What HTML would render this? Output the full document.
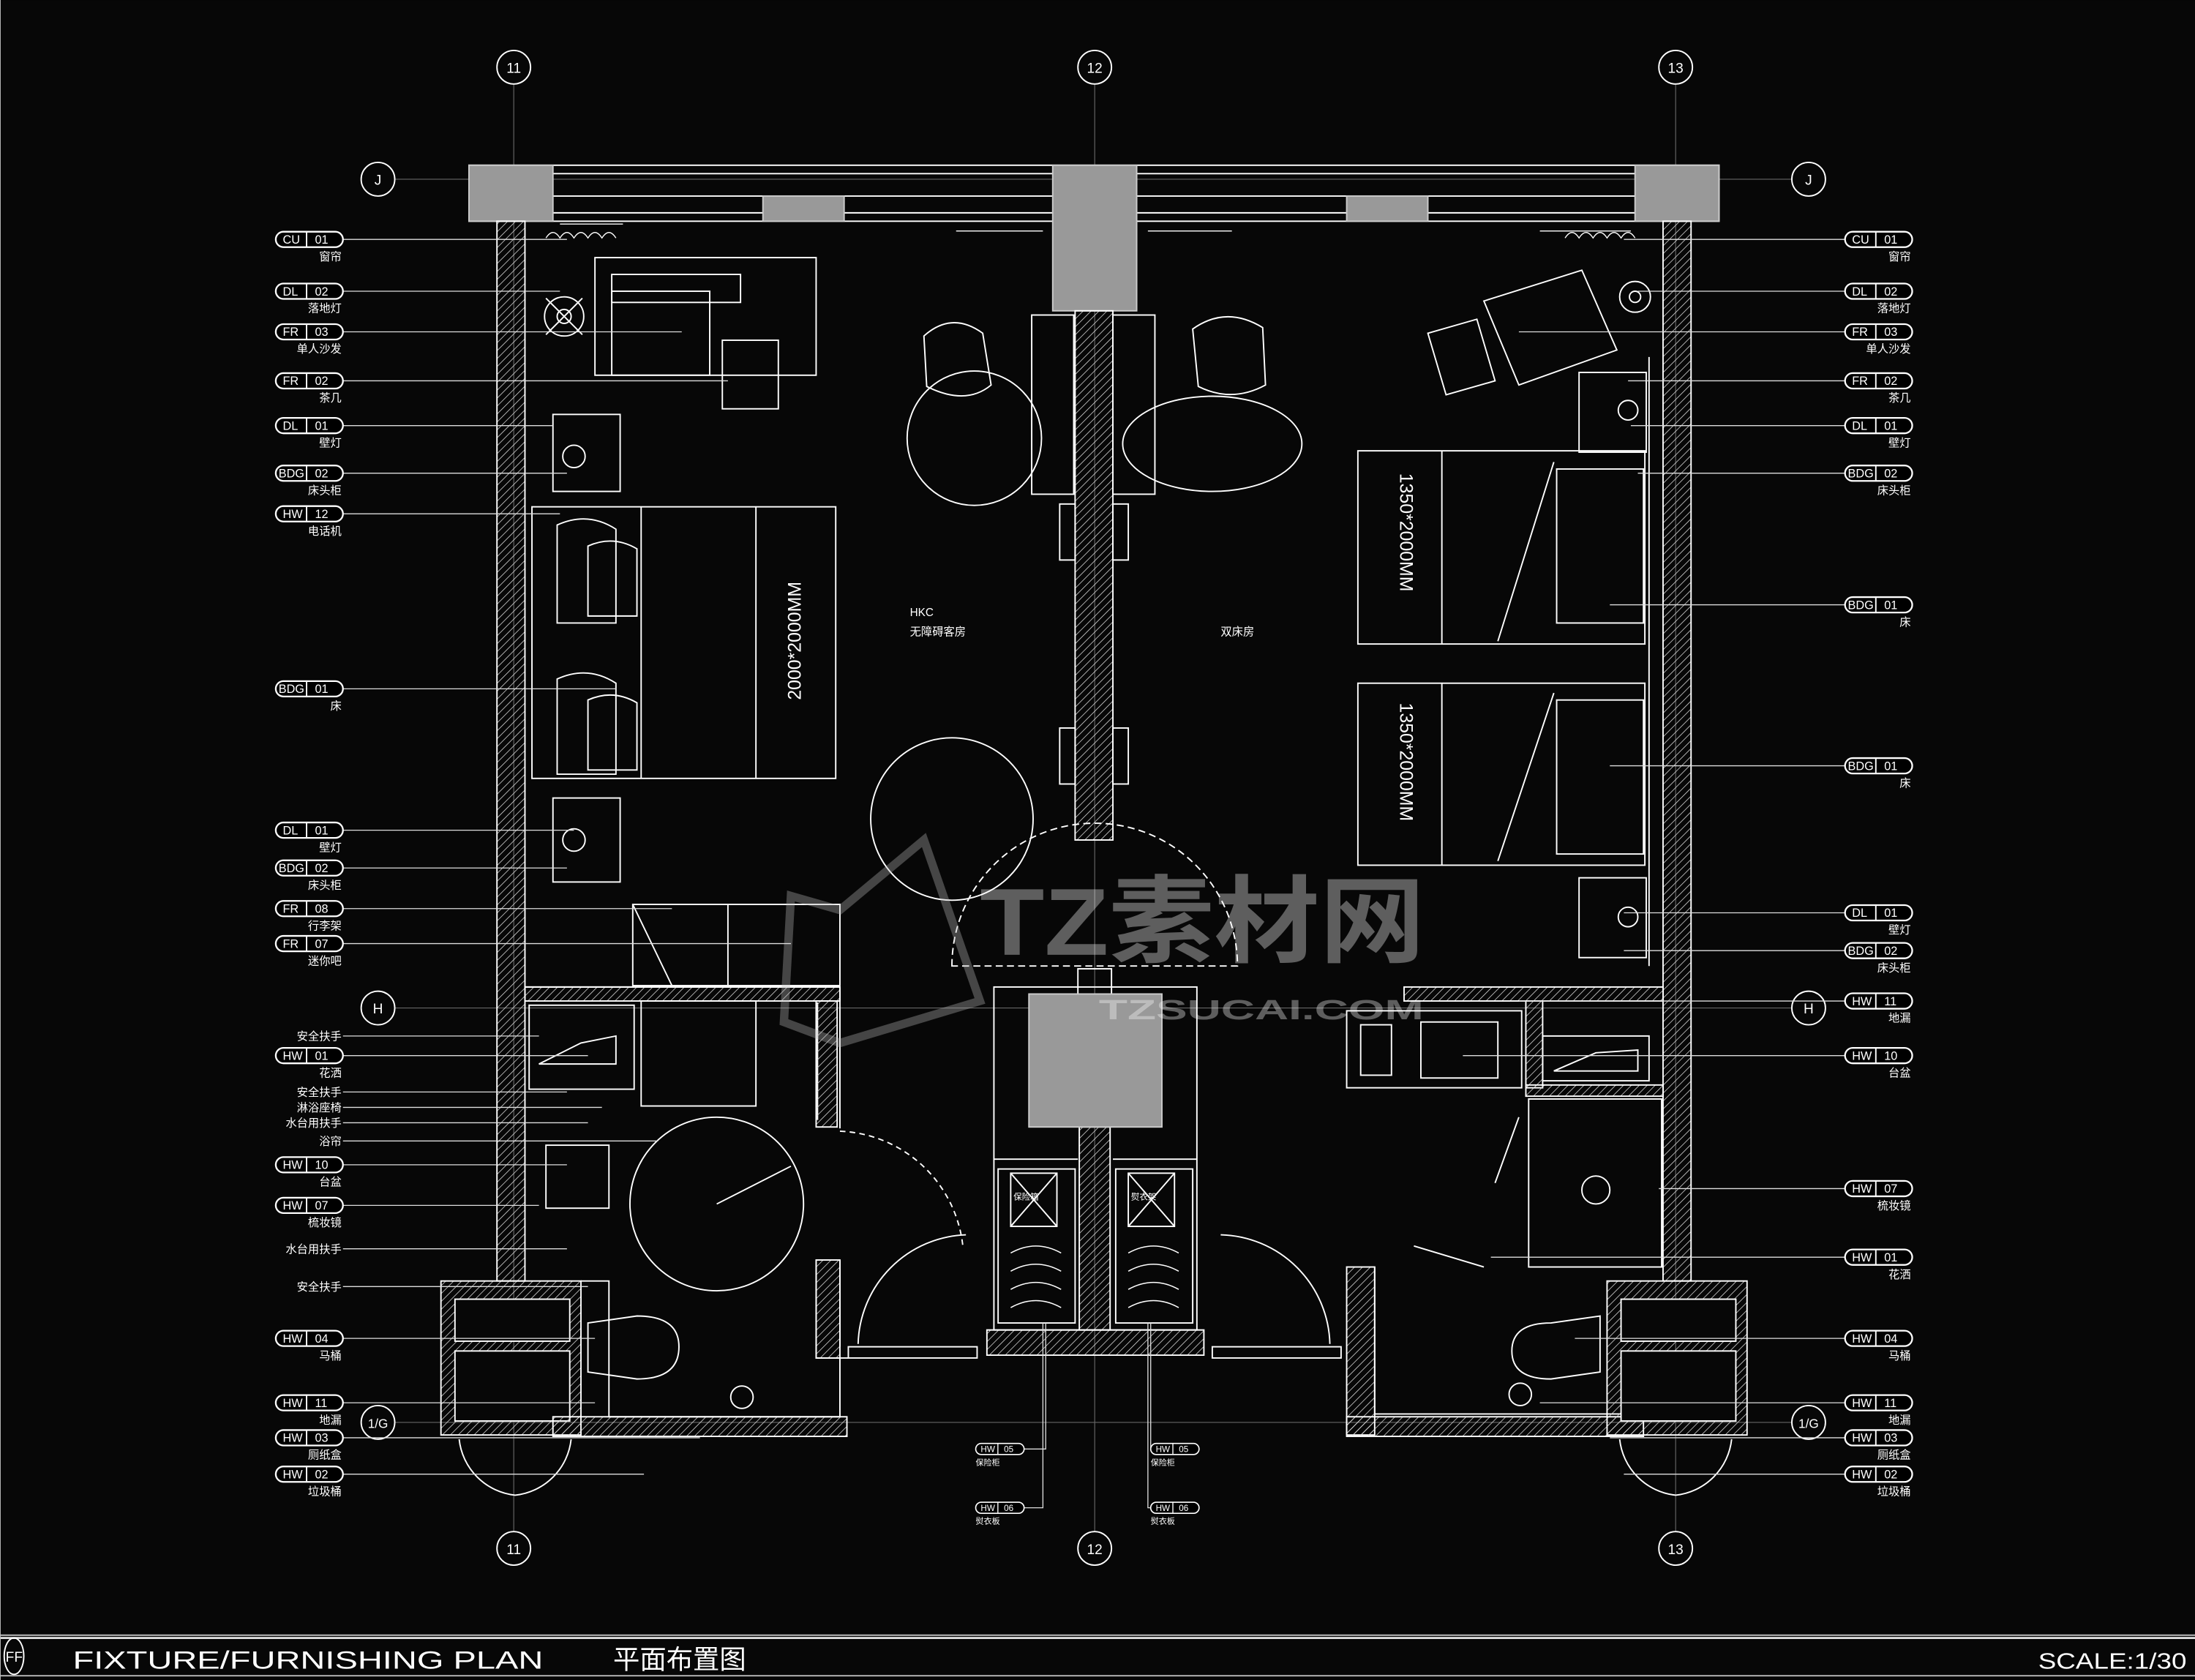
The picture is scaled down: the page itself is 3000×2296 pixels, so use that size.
<!DOCTYPE html>
<html><head><meta charset="utf-8"><style>
html,body{margin:0;padding:0;background:#050505;}
svg{display:block}
text{font-family:"Liberation Sans","Noto Sans CJK SC",sans-serif;fill:#fff}
</style></head><body>
<svg width="3000" height="2296" viewBox="0 0 1568 1200" xmlns="http://www.w3.org/2000/svg">
<defs>
<pattern id="h" width="4" height="4" patternUnits="userSpaceOnUse" patternTransform="rotate(45)"><line x1="0" y1="0" x2="0" y2="4" stroke="#ddd" stroke-width="0.8"/></pattern>
<g id="tag"><rect x="0" y="-5.5" width="48" height="11" rx="5.5" fill="#000" stroke="#fff" stroke-width="1.2"/><line x1="22" y1="-5.5" x2="22" y2="5.5" stroke="#fff"/></g>
</defs>
<rect width="1568" height="1200" fill="#070707"/>
<g fill="none" stroke="#fff" stroke-width="1">
<line x1="0" y1="1168" x2="1568" y2="1168" stroke="#bbb"/>
<line x1="0" y1="1170" x2="1568" y2="1170" stroke="#ddd" stroke-width="1.5"/>
<line x1="0" y1="1197" x2="1568" y2="1197" stroke="#bbb"/>
<line x1="0" y1="0" x2="0" y2="1200" stroke="#bbb"/>
<g stroke="#666" stroke-width="0.6">
<line x1="367" y1="60" x2="367" y2="1094"/><line x1="782" y1="60" x2="782" y2="1094"/><line x1="1197" y1="60" x2="1197" y2="1094"/>
<line x1="282" y1="128" x2="1280" y2="128"/><line x1="282" y1="720" x2="1280" y2="720"/><line x1="282" y1="1016" x2="1280" y2="1016"/>
</g>
<g stroke="#fff" fill="#070707">
<circle cx="367" cy="48" r="12"/><circle cx="782" cy="48" r="12"/><circle cx="1197" cy="48" r="12"/>
<circle cx="367" cy="1106" r="12"/><circle cx="782" cy="1106" r="12"/><circle cx="1197" cy="1106" r="12"/>
<circle cx="270" cy="128" r="12"/><circle cx="1292" cy="128" r="12"/>
<circle cx="270" cy="720" r="12"/><circle cx="1292" cy="720" r="12"/>
<circle cx="270" cy="1016" r="12"/><circle cx="1292" cy="1016" r="12"/>
</g>
<rect x="335" y="118" width="893" height="40"/>
<line x1="395" y1="124" x2="1168" y2="124"/><line x1="395" y1="140" x2="1168" y2="140"/><line x1="395" y1="152" x2="1168" y2="152"/>
<g fill="#999" stroke="#ccc">
<rect x="335" y="118" width="60" height="40"/><rect x="752" y="118" width="60" height="104"/><rect x="1168" y="118" width="60" height="40"/>
<rect x="545" y="140" width="58" height="18"/><rect x="962" y="140" width="58" height="18"/>
</g>
<rect x="355" y="158" width="20" height="757" fill="url(#h)"/>
<rect x="1188" y="158" width="20" height="757" fill="url(#h)"/>
<rect x="768" y="222" width="27" height="378" fill="url(#h)"/>
<rect x="770" y="692" width="24" height="20"/>
<rect x="771" y="805" width="22" height="145" fill="url(#h)"/>
<path d="M705 950 H860 V968 H705 Z" fill="url(#h)"/>
<rect x="425" y="184" width="158" height="84"/><rect x="437" y="196" width="92" height="20"/><rect x="437" y="208" width="70" height="60"/>
<rect x="516" y="243" width="40" height="49"/>
<circle cx="403" cy="226" r="14"/><circle cx="403" cy="226" r="5"/><line x1="390" y1="213" x2="416" y2="239"/><line x1="416" y1="213" x2="390" y2="239"/>
<rect x="395" y="296" width="48" height="55"/><circle cx="410" cy="326" r="8"/>
<rect x="380" y="362" width="217" height="194"/><line x1="458" y1="362" x2="458" y2="556"/><line x1="540" y1="362" x2="540" y2="556"/>
<path d="M398 375 Q420 365 440 378 V445 H398 Z"/><path d="M420 390 Q438 382 455 392 V440 H420 Z"/>
<path d="M398 485 Q420 475 440 488 V553 H398 Z"/><path d="M420 500 Q438 492 455 502 V550 H420 Z"/>
<rect x="395" y="570" width="48" height="60"/><circle cx="410" cy="600" r="8"/>
<rect x="452" y="646" width="148" height="58"/><line x1="520" y1="646" x2="520" y2="704"/><line x1="452" y1="646" x2="480" y2="704"/>
<circle cx="680" cy="585" r="58"/>
<circle cx="696" cy="313" r="48"/><path d="M660 240 Q680 222 702 238 L708 275 Q690 290 662 276 Z"/>
<rect x="737" y="225" width="30" height="128"/><rect x="795" y="225" width="30" height="128"/>
<ellipse cx="866" cy="317" rx="64" ry="34"/><path d="M852 235 Q876 218 902 234 L904 275 Q880 288 856 276 Z"/>
<rect x="757" y="360" width="11" height="40"/><rect x="795" y="360" width="11" height="40"/>
<rect x="757" y="520" width="11" height="40"/><rect x="795" y="520" width="11" height="40"/>
<path d="M1060 215 L1130 193 L1155 250 L1085 275 Z"/><path d="M1020 238 L1055 228 L1068 272 L1033 282 Z"/>
<circle cx="1168" cy="212" r="11"/><circle cx="1168" cy="212" r="4"/>
<rect x="1128" y="266" width="48" height="57"/><circle cx="1163" cy="293" r="7"/>
<rect x="970" y="322" width="205" height="138"/><line x1="1030" y1="322" x2="1030" y2="460"/><line x1="1110" y1="330" x2="1070" y2="458"/><rect x="1112" y="335" width="62" height="110"/>
<rect x="970" y="488" width="205" height="130"/><line x1="1030" y1="488" x2="1030" y2="618"/><line x1="1110" y1="495" x2="1070" y2="615"/><rect x="1112" y="500" width="62" height="110"/>
<rect x="1128" y="627" width="48" height="57"/><circle cx="1163" cy="655" r="7"/>
<line x1="1178" y1="255" x2="1178" y2="690"/>
<path d="M680 690 A102 102 0 0 1 884 690 Z" stroke-dasharray="5 3"/>
<rect x="710" y="705" width="145" height="245"/>
<rect x="735" y="710" width="95" height="95" fill="#999" stroke="#ccc"/>
<line x1="710" y1="828" x2="770" y2="828"/><line x1="795" y1="828" x2="855" y2="828"/>
<rect x="713" y="835" width="55" height="110"/><rect x="797" y="835" width="55" height="110"/>
<rect x="722" y="838" width="33" height="38"/><line x1="722" y1="838" x2="755" y2="876"/><line x1="755" y1="838" x2="722" y2="876"/>
<rect x="806" y="838" width="33" height="38"/><line x1="806" y1="838" x2="839" y2="876"/><line x1="839" y1="838" x2="806" y2="876"/>
<g stroke-width="0.8">
<path d="M722 895 Q740 885 758 895 M722 908 Q740 898 758 908 M722 921 Q740 911 758 921 M722 934 Q740 924 758 934"/>
<path d="M806 895 Q824 885 842 895 M806 908 Q824 898 842 908 M806 921 Q824 911 842 921 M806 934 Q824 924 842 934"/>
</g>
<path d="M613 960 A80 80 0 0 1 690 882"/><path d="M950 960 A80 80 0 0 0 872 882"/>
<rect x="606" y="962" width="92" height="8"/><rect x="866" y="962" width="92" height="8"/>
<path d="M375 705 H600 V806 M584 716 V800" />
<rect x="375" y="705" width="225" height="10" fill="url(#h)"/>
<rect x="583" y="715" width="15" height="90" fill="url(#h)"/>
<rect x="378" y="718" width="75" height="60"/><path d="M385 760 L415 745 L440 740 V760 Z"/>
<rect x="458" y="715" width="82" height="75"/>
<circle cx="512" cy="860" r="62"/><line x1="512" y1="860" x2="565" y2="833"/>
<rect x="390" y="818" width="45" height="45"/>
<path d="M600 808 A92 92 0 0 1 688 892" stroke-dasharray="4 3"/>
<path d="M583 900 V970 H606 M600 900 V962"/>
<rect x="583" y="900" width="17" height="70" fill="url(#h)"/>
<rect x="315" y="915" width="100" height="110" fill="url(#h)"/><rect x="325" y="928" width="82" height="30" fill="#070707"/><rect x="325" y="965" width="82" height="50" fill="#070707"/>
<path d="M415 915 H435 V1012 H600 V970"/><rect x="395" y="1012" width="210" height="14" fill="url(#h)"/>
<path d="M420 945 L455 940 Q485 940 485 962 Q485 985 455 985 L420 980 Z"/>
<circle cx="530" cy="998" r="8"/>
<path d="M328 1028 A45 45 0 0 0 368 1068 A45 45 0 0 0 408 1028"/>
<rect x="1003" y="705" width="185" height="10" fill="url(#h)"/>
<rect x="962" y="722" width="125" height="55"/><rect x="972" y="732" width="22" height="36"/><rect x="1015" y="730" width="55" height="40"/>
<rect x="1090" y="715" width="12" height="62" fill="url(#h)"/><rect x="1102" y="740" width="76" height="32"/><path d="M1110 765 L1140 752 L1170 750 V765 Z"/>
<rect x="1090" y="775" width="98" height="8" fill="url(#h)"/>
<rect x="1092" y="785" width="95" height="120"/><circle cx="1140" cy="850" r="10"/>
<line x1="1068" y1="845" x2="1085" y2="798"/><line x1="1010" y1="890" x2="1060" y2="905"/>
<rect x="962" y="905" width="20" height="120" fill="url(#h)"/>
<path d="M982 905 V1010 H1188"/><rect x="962" y="1012" width="212" height="14" fill="url(#h)"/>
<rect x="1148" y="915" width="100" height="110" fill="url(#h)"/><rect x="1158" y="928" width="82" height="30" fill="#070707"/><rect x="1158" y="965" width="82" height="50" fill="#070707"/>
<path d="M1143 940 L1108 945 Q1080 945 1080 965 Q1080 985 1108 985 L1143 980 Z"/>
<circle cx="1086" cy="996" r="8"/>
<path d="M1157 1028 A45 45 0 0 0 1197 1068 A45 45 0 0 0 1237 1028"/>
<path d="M390 170 q5 -8 10 0 q5 -8 10 0 q5 -8 10 0 q5 -8 10 0 q5 -8 10 0" stroke-width="0.7"/>
<path d="M1118 170 q5 -8 10 0 q5 -8 10 0 q5 -8 10 0 q5 -8 10 0 q5 -8 10 0" stroke-width="0.7"/>
<line x1="683" y1="165" x2="745" y2="165" stroke-width="0.7"/><line x1="820" y1="165" x2="880" y2="165" stroke-width="0.7"/>
<line x1="1100" y1="165" x2="1165" y2="165" stroke-width="0.7"/><line x1="400" y1="160" x2="445" y2="160" stroke-width="0.7"/>
</g>
<g opacity="0.35">
<text x="700" y="682" font-size="68" font-weight="bold" fill="#bbb" textLength="318" lengthAdjust="spacingAndGlyphs">TZ素材网</text>
<text x="785" y="728" font-size="20" font-weight="bold" fill="#bbb" textLength="232" lengthAdjust="spacingAndGlyphs">TZSUCAI.COM</text>
<path d="M565 640 L600 650 L660 600 L700 715 L600 745 L560 730 Z" fill="none" stroke="#bbb" stroke-width="6"/>
</g>
<text x="650" y="440" font-size="8">HKC</text><text x="650" y="454" font-size="8">无障碍客房</text><text x="872" y="454" font-size="8">双床房</text>
<text transform="translate(572,500) rotate(-90)" font-size="13">2000*2000MM</text>
<text transform="translate(1000,338) rotate(90)" font-size="13">1350*2000MM</text>
<text transform="translate(1000,502) rotate(90)" font-size="13">1350*2000MM</text>
<text x="724" y="857" font-size="6">保险箱</text><text x="808" y="857" font-size="6">熨衣架</text>
<g stroke="#ddd" stroke-width="0.7" fill="none">
<path d="M245 171H405 M245 208H400 M245 237H487 M245 272H520 M245 304H395 M245 338H405 M245 367H400 M245 492H440 M245 593H410 M245 620H405 M245 649H480 M245 674H565 M245 740H385 M245 754H420 M245 780H405 M245 791H430 M245 802H420 M245 815H470 M245 832H405 M245 861H385 M245 892H405 M245 919H420 M245 956H425 M245 1002H425 M245 1027H500 M245 1053H460"/>
<path d="M1318 171H1160 M1318 208H1170 M1318 237H1085 M1318 272H1163 M1318 304H1165 M1318 338H1170 M1318 432H1150 M1318 547H1150 M1318 652H1160 M1318 679H1160 M1318 715H1085 M1318 754H1045 M1318 849H1185 M1318 898H1065 M1318 956H1125 M1318 1002H1100 M1318 1027H1150 M1318 1053H1160"/>
<path d="M731 1035H747V945 M856 1035H822V945 M731 1077H745V945 M856 1077H820V945"/>
</g>
<g font-size="8.5">
<g transform="translate(197,171)"><use href="#tag"/><text x="5" y="3">CU</text><text x="28" y="3">01</text><text x="47" y="15" font-size="8" text-anchor="end">窗帘</text></g>
<g transform="translate(197,208)"><use href="#tag"/><text x="5" y="3">DL</text><text x="28" y="3">02</text><text x="47" y="15" font-size="8" text-anchor="end">落地灯</text></g>
<g transform="translate(197,237)"><use href="#tag"/><text x="5" y="3">FR</text><text x="28" y="3">03</text><text x="47" y="15" font-size="8" text-anchor="end">单人沙发</text></g>
<g transform="translate(197,272)"><use href="#tag"/><text x="5" y="3">FR</text><text x="28" y="3">02</text><text x="47" y="15" font-size="8" text-anchor="end">茶几</text></g>
<g transform="translate(197,304)"><use href="#tag"/><text x="5" y="3">DL</text><text x="28" y="3">01</text><text x="47" y="15" font-size="8" text-anchor="end">壁灯</text></g>
<g transform="translate(197,338)"><use href="#tag"/><text x="2" y="3">BDG</text><text x="28" y="3">02</text><text x="47" y="15" font-size="8" text-anchor="end">床头柜</text></g>
<g transform="translate(197,367)"><use href="#tag"/><text x="5" y="3">HW</text><text x="28" y="3">12</text><text x="47" y="15" font-size="8" text-anchor="end">电话机</text></g>
<g transform="translate(197,492)"><use href="#tag"/><text x="2" y="3">BDG</text><text x="28" y="3">01</text><text x="47" y="15" font-size="8" text-anchor="end">床</text></g>
<g transform="translate(197,593)"><use href="#tag"/><text x="5" y="3">DL</text><text x="28" y="3">01</text><text x="47" y="15" font-size="8" text-anchor="end">壁灯</text></g>
<g transform="translate(197,620)"><use href="#tag"/><text x="2" y="3">BDG</text><text x="28" y="3">02</text><text x="47" y="15" font-size="8" text-anchor="end">床头柜</text></g>
<g transform="translate(197,649)"><use href="#tag"/><text x="5" y="3">FR</text><text x="28" y="3">08</text><text x="47" y="15" font-size="8" text-anchor="end">行李架</text></g>
<g transform="translate(197,674)"><use href="#tag"/><text x="5" y="3">FR</text><text x="28" y="3">07</text><text x="47" y="15" font-size="8" text-anchor="end">迷你吧</text></g>
<g font-size="8" text-anchor="end"><text x="244" y="743">安全扶手</text><text x="244" y="783">安全扶手</text><text x="244" y="794">淋浴座椅</text><text x="244" y="805">水台用扶手</text><text x="244" y="818">浴帘</text><text x="244" y="895">水台用扶手</text><text x="244" y="922">安全扶手</text></g>
<g transform="translate(197,754)"><use href="#tag"/><text x="5" y="3">HW</text><text x="28" y="3">01</text><text x="47" y="15" font-size="8" text-anchor="end">花洒</text></g>
<g transform="translate(197,832)"><use href="#tag"/><text x="5" y="3">HW</text><text x="28" y="3">10</text><text x="47" y="15" font-size="8" text-anchor="end">台盆</text></g>
<g transform="translate(197,861)"><use href="#tag"/><text x="5" y="3">HW</text><text x="28" y="3">07</text><text x="47" y="15" font-size="8" text-anchor="end">梳妆镜</text></g>
<g transform="translate(197,956)"><use href="#tag"/><text x="5" y="3">HW</text><text x="28" y="3">04</text><text x="47" y="15" font-size="8" text-anchor="end">马桶</text></g>
<g transform="translate(197,1002)"><use href="#tag"/><text x="5" y="3">HW</text><text x="28" y="3">11</text><text x="47" y="15" font-size="8" text-anchor="end">地漏</text></g>
<g transform="translate(197,1027)"><use href="#tag"/><text x="5" y="3">HW</text><text x="28" y="3">03</text><text x="47" y="15" font-size="8" text-anchor="end">厕纸盒</text></g>
<g transform="translate(197,1053)"><use href="#tag"/><text x="5" y="3">HW</text><text x="28" y="3">02</text><text x="47" y="15" font-size="8" text-anchor="end">垃圾桶</text></g>
<g transform="translate(1318,171)"><use href="#tag"/><text x="5" y="3">CU</text><text x="28" y="3">01</text><text x="47" y="15" font-size="8" text-anchor="end">窗帘</text></g>
<g transform="translate(1318,208)"><use href="#tag"/><text x="5" y="3">DL</text><text x="28" y="3">02</text><text x="47" y="15" font-size="8" text-anchor="end">落地灯</text></g>
<g transform="translate(1318,237)"><use href="#tag"/><text x="5" y="3">FR</text><text x="28" y="3">03</text><text x="47" y="15" font-size="8" text-anchor="end">单人沙发</text></g>
<g transform="translate(1318,272)"><use href="#tag"/><text x="5" y="3">FR</text><text x="28" y="3">02</text><text x="47" y="15" font-size="8" text-anchor="end">茶几</text></g>
<g transform="translate(1318,304)"><use href="#tag"/><text x="5" y="3">DL</text><text x="28" y="3">01</text><text x="47" y="15" font-size="8" text-anchor="end">壁灯</text></g>
<g transform="translate(1318,338)"><use href="#tag"/><text x="2" y="3">BDG</text><text x="28" y="3">02</text><text x="47" y="15" font-size="8" text-anchor="end">床头柜</text></g>
<g transform="translate(1318,432)"><use href="#tag"/><text x="2" y="3">BDG</text><text x="28" y="3">01</text><text x="47" y="15" font-size="8" text-anchor="end">床</text></g>
<g transform="translate(1318,547)"><use href="#tag"/><text x="2" y="3">BDG</text><text x="28" y="3">01</text><text x="47" y="15" font-size="8" text-anchor="end">床</text></g>
<g transform="translate(1318,652)"><use href="#tag"/><text x="5" y="3">DL</text><text x="28" y="3">01</text><text x="47" y="15" font-size="8" text-anchor="end">壁灯</text></g>
<g transform="translate(1318,679)"><use href="#tag"/><text x="2" y="3">BDG</text><text x="28" y="3">02</text><text x="47" y="15" font-size="8" text-anchor="end">床头柜</text></g>
<g transform="translate(1318,715)"><use href="#tag"/><text x="5" y="3">HW</text><text x="28" y="3">11</text><text x="47" y="15" font-size="8" text-anchor="end">地漏</text></g>
<g transform="translate(1318,754)"><use href="#tag"/><text x="5" y="3">HW</text><text x="28" y="3">10</text><text x="47" y="15" font-size="8" text-anchor="end">台盆</text></g>
<g transform="translate(1318,849)"><use href="#tag"/><text x="5" y="3">HW</text><text x="28" y="3">07</text><text x="47" y="15" font-size="8" text-anchor="end">梳妆镜</text></g>
<g transform="translate(1318,898)"><use href="#tag"/><text x="5" y="3">HW</text><text x="28" y="3">01</text><text x="47" y="15" font-size="8" text-anchor="end">花洒</text></g>
<g transform="translate(1318,956)"><use href="#tag"/><text x="5" y="3">HW</text><text x="28" y="3">04</text><text x="47" y="15" font-size="8" text-anchor="end">马桶</text></g>
<g transform="translate(1318,1002)"><use href="#tag"/><text x="5" y="3">HW</text><text x="28" y="3">11</text><text x="47" y="15" font-size="8" text-anchor="end">地漏</text></g>
<g transform="translate(1318,1027)"><use href="#tag"/><text x="5" y="3">HW</text><text x="28" y="3">03</text><text x="47" y="15" font-size="8" text-anchor="end">厕纸盒</text></g>
<g transform="translate(1318,1053)"><use href="#tag"/><text x="5" y="3">HW</text><text x="28" y="3">02</text><text x="47" y="15" font-size="8" text-anchor="end">垃圾桶</text></g>
<g transform="translate(697,1035) scale(0.72)"><use href="#tag"/><text x="5" y="3">HW</text><text x="28" y="3">05</text><text x="0" y="16" font-size="8">保险柜</text></g>
<g transform="translate(822,1035) scale(0.72)"><use href="#tag"/><text x="5" y="3">HW</text><text x="28" y="3">05</text><text x="0" y="16" font-size="8">保险柜</text></g>
<g transform="translate(697,1077) scale(0.72)"><use href="#tag"/><text x="5" y="3">HW</text><text x="28" y="3">06</text><text x="0" y="16" font-size="8">熨衣板</text></g>
<g transform="translate(822,1077) scale(0.72)"><use href="#tag"/><text x="5" y="3">HW</text><text x="28" y="3">06</text><text x="0" y="16" font-size="8">熨衣板</text></g>
</g>
<g font-size="10" text-anchor="middle">
<text x="367" y="52">11</text><text x="782" y="52">12</text><text x="1197" y="52">13</text>
<text x="367" y="1110">11</text><text x="782" y="1110">12</text><text x="1197" y="1110">13</text>
<text x="270" y="132">J</text><text x="1292" y="132">J</text>
<text x="270" y="724">H</text><text x="1292" y="724">H</text>
<text x="270" y="1020" font-size="9">1/G</text><text x="1292" y="1020" font-size="9">1/G</text>
</g>
<ellipse cx="10" cy="1183" rx="7" ry="13" fill="none" stroke="#fff"/>
<text x="4" y="1187" font-size="10">FF</text>
<text x="52" y="1192" font-size="18" textLength="336" lengthAdjust="spacingAndGlyphs">FIXTURE/FURNISHING PLAN</text>
<text x="438" y="1192" font-size="19" textLength="95" lengthAdjust="spacingAndGlyphs">平面布置图</text>
<text x="1456" y="1192" font-size="16" textLength="106" lengthAdjust="spacingAndGlyphs">SCALE:1/30</text>
</svg>
</body></html>
